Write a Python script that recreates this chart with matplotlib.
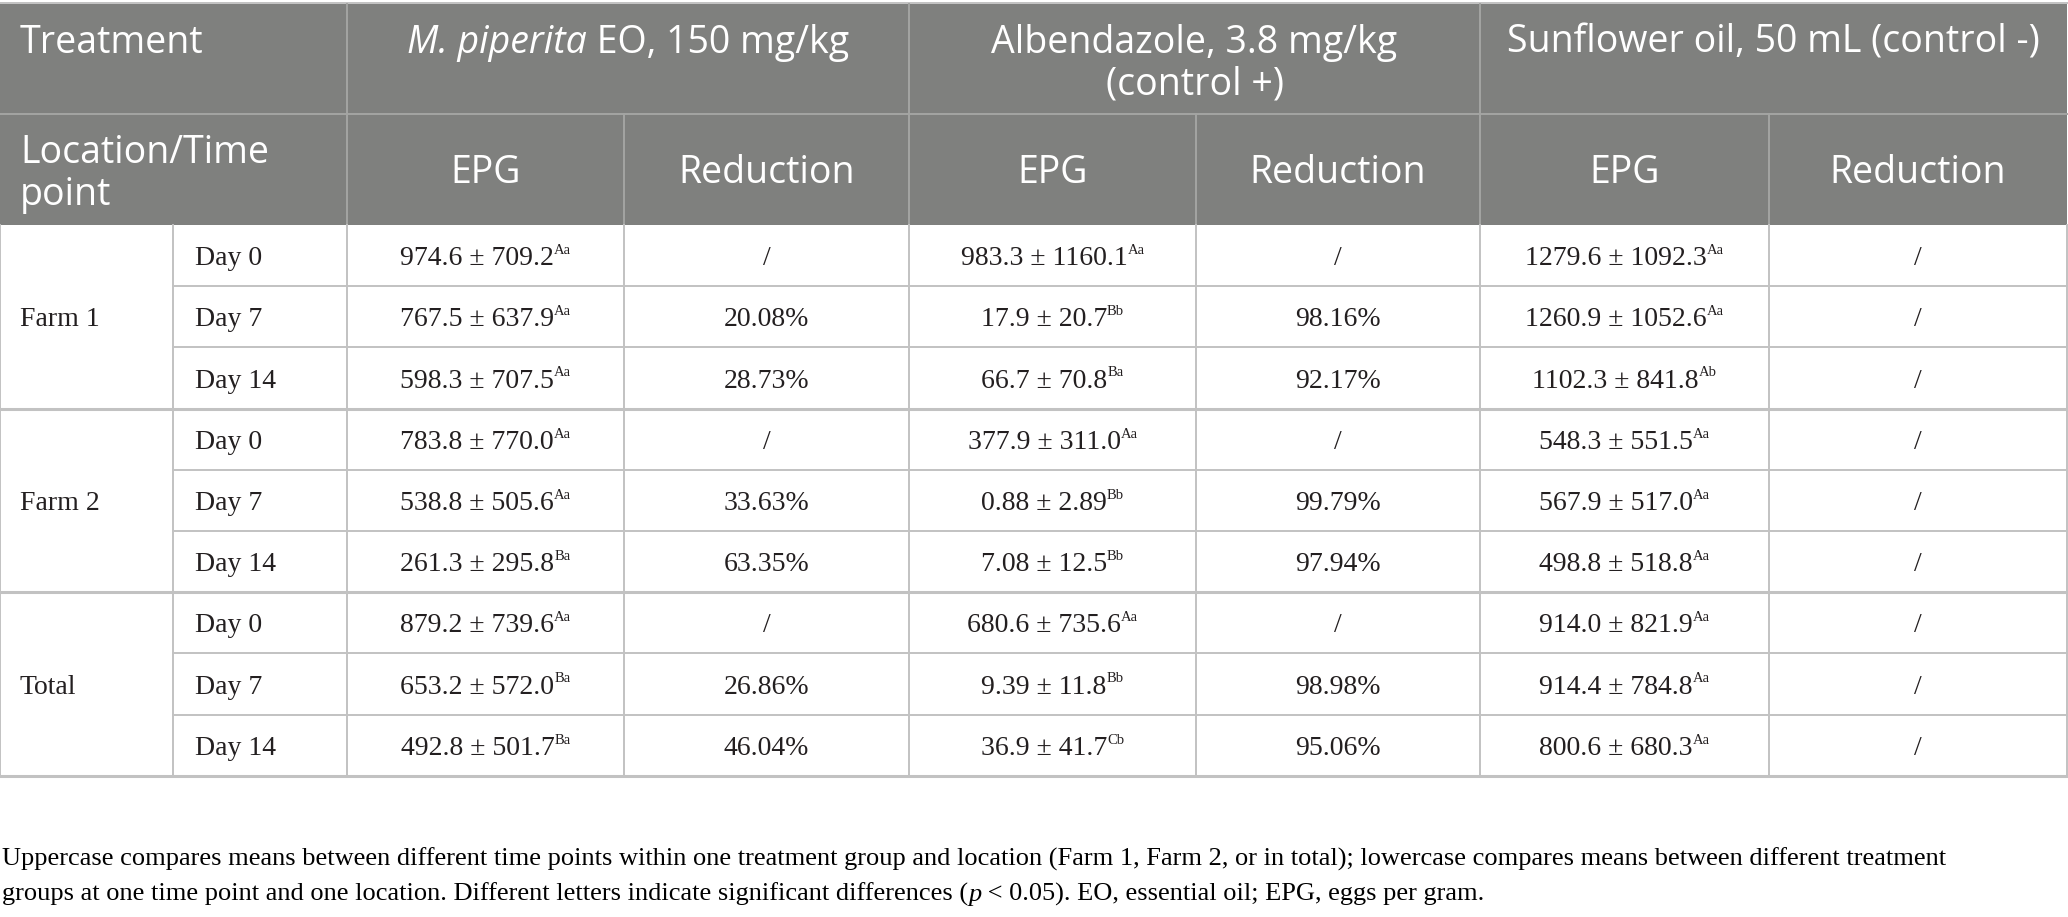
import matplotlib
matplotlib.use("Agg")
import matplotlib.pyplot as plt
from matplotlib.font_manager import FontProperties

# ---- table content ----
locations = ["Farm 1", "Farm 2", "Total"]
days = ["Day 0", "Day 7", "Day 14"]

treatments = ["M. piperita EO, 150 mg/kg",
              "Albendazole, 3.8 mg/kg\n(control +)",
              "Sunflower oil, 50 mL (control -)"]
sub_headers = ["EPG", "Reduction"]

mp_epg = ["974.6 ± 709.2", "767.5 ± 637.9", "598.3 ± 707.5",
          "783.8 ± 770.0", "538.8 ± 505.6", "261.3 ± 295.8",
          "879.2 ± 739.6", "653.2 ± 572.0", "492.8 ± 501.7"]
mp_sup = ["Aa", "Aa", "Aa", "Aa", "Aa", "Ba", "Aa", "Ba", "Ba"]
mp_red = ["/", "20.08%", "28.73%", "/", "33.63%", "63.35%", "/", "26.86%", "46.04%"]

alb_epg = ["983.3 ± 1160.1", "17.9 ± 20.7", "66.7 ± 70.8",
           "377.9 ± 311.0", "0.88 ± 2.89", "7.08 ± 12.5",
           "680.6 ± 735.6", "9.39 ± 11.8", "36.9 ± 41.7"]
alb_sup = ["Aa", "Bb", "Ba", "Aa", "Bb", "Bb", "Aa", "Bb", "Cb"]
alb_red = ["/", "98.16%", "92.17%", "/", "99.79%", "97.94%", "/", "98.98%", "95.06%"]

sun_epg = ["1279.6 ± 1092.3", "1260.9 ± 1052.6", "1102.3 ± 841.8",
           "548.3 ± 551.5", "567.9 ± 517.0", "498.8 ± 518.8",
           "914.0 ± 821.9", "914.4 ± 784.8", "800.6 ± 680.3"]
sun_sup = ["Aa", "Aa", "Ab", "Aa", "Aa", "Aa", "Aa", "Aa", "Aa"]
sun_red = ["/"] * 9

caption_1 = ("Uppercase compares means between different time points within one treatment group "
             "and location (Farm 1, Farm 2, or in total); lowercase compares means between different treatment")
caption_2a = "groups at one time point and one location. Different letters indicate significant differences ("
caption_2b = "p"
caption_2c = " < 0.05). EO, essential oil; EPG, eggs per gram."

# ---- layout (pixels) ----
W, H = 2068, 917
col_x = [0, 173, 347, 624, 909, 1196, 1480, 1769, 2067]
y_top, y_h1, y_h2 = 4, 114, 225
row_h = 61.2
row_y = [y_h2 + i * row_h for i in range(10)]

HEAD_BG = "#7f807e"
HEAD_LINE = "#a4a5a3"
GRID = "#c2c2c2"
TXT = "#231f20"

head_fp = FontProperties(family="Open Sans", size=27)
head_it = FontProperties(family="Open Sans", style="italic", size=27)
body_fp = FontProperties(family="Liberation Serif", size=20)
sup_fp = FontProperties(family="Liberation Serif", size=10.5)
cap_fp = FontProperties(family="Liberation Serif", size=19)
cap_it = FontProperties(family="Liberation Serif", style="italic", size=19)

fig = plt.figure(figsize=(W / 100, H / 100), dpi=100)
ax = fig.add_axes([0, 0, 1, 1])
ax.set_xlim(0, W)
ax.set_ylim(H, 0)
ax.axis("off")
renderer = fig.canvas.get_renderer()


def put_runs(x, y, parts, ha="center", color=TXT):
    # parts: (text, fontprops, raise in px); y is the baseline
    arts = []
    total = 0
    for s, fp, dy in parts:
        t = ax.text(0, y - dy, s, fontproperties=fp, color=color,
                    ha="left", va="baseline")
        w = t.get_window_extent(renderer).width
        arts.append((t, w))
        total += w
    x0 = x - total / 2 if ha == "center" else x
    for t, w in arts:
        t.set_x(x0)
        x0 += w


# header background
ax.fill_between([col_x[0], col_x[-1]], y_top, y_h2, color=HEAD_BG, lw=0, zorder=0)
ax.plot([0, W], [y_top - 1, y_top - 1], color=GRID, lw=1.4)
ax.plot([0, col_x[-1]], [y_h1, y_h1], color=HEAD_LINE, lw=1.4)
for cx in [col_x[2], col_x[4], col_x[6]]:
    ax.plot([cx, cx], [y_top, y_h2], color=HEAD_LINE, lw=1.4)
for cx in [col_x[3], col_x[5], col_x[7]]:
    ax.plot([cx, cx], [y_h1, y_h2], color=HEAD_LINE, lw=1.4)

# header text
hb = 53  # baseline of first header line
ax.text(20, hb, "Treatment", fontproperties=head_fp, color="white", va="baseline")
put_runs((col_x[2] + col_x[4]) / 2, hb,
         [("M. piperita", head_it, 0), (" EO, 150 mg/kg", head_fp, 0)], color="white")
for j, line in enumerate(treatments[1].split("\n")):
    put_runs((col_x[4] + col_x[6]) / 2, hb + 42 * j, [(line, head_fp, 0)], color="white")
put_runs((col_x[6] + col_x[8]) / 2, hb, [(treatments[2], head_fp, 0)], color="white")

ax.text(20, 163, "Location/Time", fontproperties=head_fp, color="white", va="baseline")
ax.text(20, 205, "point", fontproperties=head_fp, color="white", va="baseline")
for k in range(6):
    put_runs((col_x[2 + k] + col_x[3 + k]) / 2, 183, [(sub_headers[k % 2], head_fp, 0)],
             color="white")

# grid of body
for cx in col_x:
    ax.plot([cx, cx], [y_h2, row_y[-1]], color=GRID, lw=1.4)
for i, ry in enumerate(row_y[1:], start=1):
    if i % 3 == 0:
        ax.plot([0, col_x[-1]], [ry, ry], color=GRID, lw=2.2)
    else:
        ax.plot([col_x[1], col_x[-1]], [ry, ry], color=GRID, lw=1.4)

# body text
epg_cols = [(mp_epg, mp_sup, mp_red), (alb_epg, alb_sup, alb_red), (sun_epg, sun_sup, sun_red)]
for g, loc in enumerate(locations):
    cy = (row_y[3 * g] + row_y[3 * g + 3]) / 2
    ax.text(20, cy + 9.5, loc, fontproperties=body_fp, color=TXT, va="baseline")
    for d in range(3):
        r = 3 * g + d
        base = (row_y[r] + row_y[r + 1]) / 2 + 9.5
        ax.text(195, base, days[d], fontproperties=body_fp, color=TXT, va="baseline")
        for t, (epg, sup, red) in enumerate(epg_cols):
            c_epg = (col_x[2 + 2 * t] + col_x[3 + 2 * t]) / 2
            c_red = (col_x[3 + 2 * t] + col_x[4 + 2 * t]) / 2
            put_runs(c_epg, base, [(epg[r], body_fp, 0), (sup[r], sup_fp, 11)])
            put_runs(c_red, base, [(red[r], body_fp, 0)])

# footnote
put_runs(2, 866, [(caption_1, cap_fp, 0)], ha="left", color="black")
put_runs(2, 901, [(caption_2a, cap_fp, 0), (caption_2b, cap_it, 0), (caption_2c, cap_fp, 0)],
         ha="left", color="black")

fig.savefig("out.png", dpi=100)
